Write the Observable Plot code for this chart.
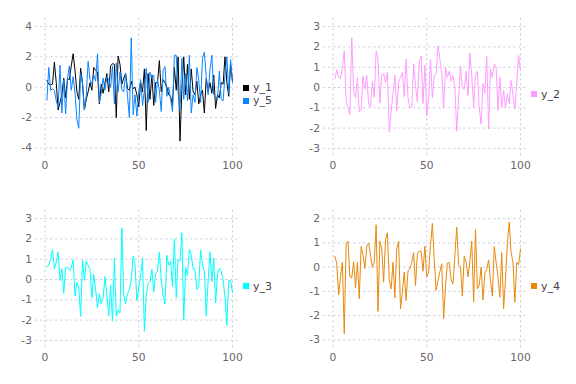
<!DOCTYPE html>
<html>
<head>
<meta charset="utf-8">
<script src="https://cdn.jsdelivr.net/npm/d3@7"></script>
<script src="https://cdn.jsdelivr.net/npm/@observablehq/plot@0.6"></script>
<style>
  html, body { margin: 0; padding: 0; background: #ffffff; }
  #fig { position: relative; width: 576px; height: 384px; overflow: hidden; font-family: "DejaVu Sans", sans-serif; }
  .cell { position: absolute; width: 288px; height: 192px; }
  .key { position: absolute; font-size: 11px; color: #4c404b; line-height: 13px; }
  .key .row { display: flex; align-items: center; height: 13px; }
  .key .sw { width: 6px; height: 6px; margin-right: 4px; }
</style>
</head>
<body>
<div id="fig"></div>
<script>
// ---- data ----
const seriesNames = ["y_1", "y_2", "y_3", "y_4", "y_5"];
const seriesColors = ["#000000", "#ff9cff", "#00ffff", "#e8890c", "#0a84ff"];
const xTicks = [0, 50, 100];
const yTicks1 = [-4, -2, 0, 2, 4];
const yTicks2 = [-3, -2, -1, 0, 1, 2, 3];
const yTicks3 = [-3, -2, -1, 0, 1, 2, 3];
const yTicks4 = [-3, -2, -1, 0, 1, 2];

const y1 = [0.45,0.2,0.15,0.2,1.65,0.3,-1.5,-1.0,-0.5,0.6,-0.7,0.55,0.5,1.4,2.2,1.1,-0.3,-0.8,1.25,0.3,
  -1.5,-0.8,-0.3,0.3,-0.2,1.3,1.1,1.0,-1.1,0.2,-0.4,0.3,0.9,-0.3,1.4,1.55,1.5,-2.0,2.05,1.5,
  0.2,0.6,0.9,-0.1,-0.2,0.4,-0.1,0.0,-0.5,-1.3,0.3,-0.3,1.2,-2.85,0.9,-0.8,0.8,-1.2,0.3,0.3,
  1.75,-0.3,0.5,0.3,0.0,-0.5,-0.6,-1.2,1.3,-0.2,2.0,-3.55,-0.2,2.0,-0.5,1.5,-0.8,1.2,-0.3,-0.5,
  0.4,-1.1,-0.5,-0.2,-1.7,0.6,-0.3,0.3,-0.4,0.8,-1.4,-0.5,-0.7,0.3,0.2,2.0,0.3,-0.6,1.5,0.4];
const y5 = [-0.85,1.3,-0.2,-0.1,-0.2,-0.9,-1.3,1.45,-1.7,0.5,-1.75,0.6,1.4,-0.2,0.7,-0.4,-2.1,-2.7,0.9,0.2,
  -1.5,-0.5,1.7,0.5,0.2,0.8,0.4,2.2,-1.0,-0.4,0.6,-0.2,0.7,0.5,0.0,1.4,-1.1,1.6,-0.3,1.0,
  -0.2,-0.3,0.9,-0.6,-2.0,3.25,-1.8,-0.5,-1.9,-0.3,0.5,-1.2,-0.2,1.25,-1.0,1.0,0.6,0.8,-1.0,0.5,
  -0.2,-1.6,1.1,1.35,-0.6,0.0,-0.8,-1.6,2.1,2.1,-0.4,-1.5,1.9,-0.8,0.9,-0.9,2.1,-1.7,-0.5,-1.0,
  1.3,0.5,-1.0,1.9,2.3,0.7,-0.5,1.2,2.1,-0.5,-0.6,-0.8,1.05,-0.8,-0.9,0.8,2.0,-0.4,1.8,0.3];
const y2 = [0.43,0.87,0.5,0.43,1.0,1.8,-0.67,-0.97,-1.33,2.45,-0.15,-0.5,0.48,-1.2,-1.07,0.56,-0.08,0.6,-0.85,-0.97,
  0.3,-0.5,1.8,1.37,-0.77,0.64,0.67,0.25,0.74,-2.2,-1.2,-0.3,0.62,-1.15,0.26,0.5,0.74,-0.45,1.4,-0.5,
  -1.0,-0.95,1.15,0.1,-0.7,1.3,1.55,-0.8,1.1,-1.4,-0.6,1.4,-0.5,0.6,0.65,2.05,1.4,0.7,-1.0,1.0,
  0.5,0.8,0.3,0.6,0.0,-2.15,-0.6,1.05,0.0,-0.1,0.8,-0.4,1.7,0.6,-1.0,0.6,0.8,-1.0,-1.8,0.2,
  -0.3,1.53,-2.04,0.92,0.5,1.17,1.0,-1.13,0.5,-0.97,-0.15,-1.0,-0.3,-0.8,0.35,-0.4,-1.05,0.2,1.58,0.84];
const y3 = [0.61,0.7,1.0,1.47,0.53,0.86,1.35,-0.05,0.53,-0.68,0.58,0.6,0.45,0.6,0.97,-0.8,-0.13,-0.4,-1.83,0.97,
  -0.05,0.9,0.7,0.5,-0.9,0.25,-0.5,-1.4,-0.7,-1.2,-0.9,0.15,-0.8,-1.8,-0.3,-2.05,1.05,-1.8,-1.5,-1.65,
  2.55,-0.8,-1.2,-0.7,-0.5,0.0,1.15,0.8,-1.05,-0.4,0.2,1.05,-2.55,-0.8,-0.2,-0.1,0.5,-0.6,0.3,0.4,
  1.35,0.0,-0.8,-1.2,1.2,0.7,0.9,-0.35,2.0,-0.9,1.0,0.9,2.3,-2.0,0.6,0.2,1.5,1.2,0.5,0.5,
  -0.5,-0.3,1.45,0.7,0.4,-1.8,-0.1,1.35,-0.1,1.05,-1.15,0.3,0.55,0.4,0.0,-0.9,-2.25,-0.05,-0.05,-0.65];
const y4 = [0.45,0.15,-1.15,-0.4,0.2,-2.75,0.95,1.07,-0.4,-0.45,0.23,-0.85,0.2,-1.3,0.85,0.5,-0.05,0.85,1.0,0.5,
  0.0,0.2,1.75,-1.83,1.07,0.76,-0.62,1.13,1.42,-0.52,-0.9,0.2,-1.27,0.76,1.07,-1.72,-1.0,-0.2,-1.38,-0.14,
  -0.07,0.2,0.6,-0.76,0.55,0.66,0.66,-0.17,0.87,-0.4,-0.2,0.9,1.8,0.3,-0.96,-0.55,-0.2,0.14,-2.13,-0.8,
  0.17,0.2,-0.52,-0.69,0.5,1.65,0.1,0.0,-1.2,0.45,0.2,-0.4,0.25,1.07,-1.45,1.55,-0.9,-0.75,0.0,-1.35,
  -0.25,-0.1,0.3,-0.55,-1.2,0.85,0.2,-0.4,-1.24,0.6,-1.72,-0.5,1.0,1.86,0.6,0.2,-1.45,0.2,0.1,0.75];

// ---- drawing ----
const fig = document.getElementById("fig");
const gridColor = "#d0d0e0";
const fmt = d => String(d);

function panel(series, yDomain, yTicks, left, top, keyEntries, keyTop) {
  const marks = [
    Plot.ruleY(yTicks, {stroke: gridColor, strokeWidth: 1, strokeDasharray: "2.5,2.5"}),
    Plot.ruleX(xTicks, {stroke: gridColor, strokeWidth: 1, strokeDasharray: "2.5,2.5"})
  ];
  for (const s of series) {
    marks.push(Plot.line(s.values, {x: (d, i) => i + 1, y: d => d, stroke: s.color, strokeWidth: 1}));
  }
  const chart = Plot.plot({
    width: 288, height: 192,
    marginLeft: 35, marginRight: 48, marginTop: 18, marginBottom: 36,
    style: {fontFamily: "DejaVu Sans, sans-serif", fontSize: "10.7px", color: "#6c606b", background: "transparent", overflow: "visible"},
    x: {domain: [-5.07, 104.27], ticks: xTicks, tickSize: 0, tickPadding: 5, tickFormat: fmt, label: null},
    y: {domain: yDomain, ticks: yTicks, tickSize: 0, tickPadding: 3.5, tickFormat: fmt, label: null},
    marks
  });
  const cell = document.createElement("div");
  cell.className = "cell";
  cell.style.left = left + "px";
  cell.style.top = top + "px";
  cell.appendChild(chart);
  fig.appendChild(cell);

  const key = document.createElement("div");
  key.className = "key";
  key.style.left = (left + 243) + "px";
  key.style.top = (top + keyTop) + "px";
  for (const k of keyEntries) {
    const row = document.createElement("div");
    row.className = "row";
    const sw = document.createElement("span");
    sw.className = "sw";
    sw.style.background = k.color;
    const tx = document.createElement("span");
    tx.textContent = k.name;
    row.appendChild(sw);
    row.appendChild(tx);
    key.appendChild(row);
  }
  fig.appendChild(key);
}

panel([{values: y1, color: seriesColors[0]}, {values: y5, color: seriesColors[4]}],
      [-4.56, 4.52], yTicks1, 0, 0,
      [{name: seriesNames[0], color: seriesColors[0]}, {name: seriesNames[4], color: seriesColors[4]}], 81);
panel([{values: y2, color: seriesColors[1]}], [-3.4, 3.4], yTicks2, 288, 0,
      [{name: seriesNames[1], color: seriesColors[1]}], 87.5);
panel([{values: y3, color: seriesColors[2]}], [-3.4, 3.4], yTicks3, 0, 192,
      [{name: seriesNames[2], color: seriesColors[2]}], 87.5);
panel([{values: y4, color: seriesColors[3]}], [-3.36, 2.34], yTicks4, 288, 192,
      [{name: seriesNames[3], color: seriesColors[3]}], 87.5);
</script>
</body>
</html>
